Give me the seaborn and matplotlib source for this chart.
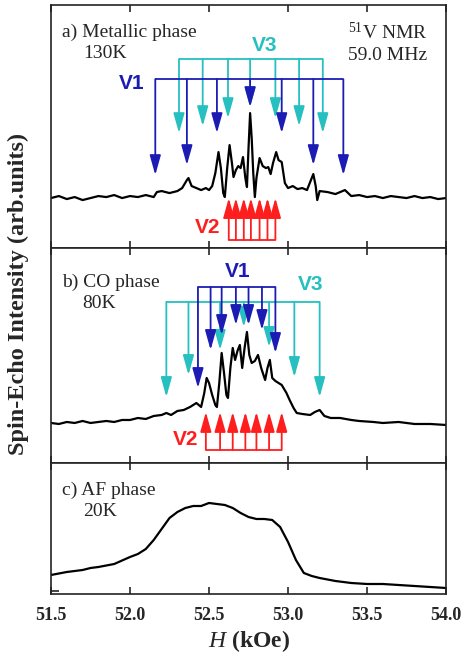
import pandas as pd
import matplotlib
matplotlib.use("Agg")
import matplotlib.pyplot as plt
import seaborn as sns

# spectra: field (kOe) and echo intensity (arb. units)

field_a = [51.50, 51.55, 51.60, 51.65, 51.70, 51.75, 51.80, 51.85, 51.90, 51.95,
           52.00, 52.05, 52.10, 52.15, 52.17, 52.20, 52.25, 52.30, 52.33, 52.36,
           52.37, 52.39, 52.42, 52.45, 52.48, 52.50, 52.52, 52.54, 52.56, 52.575,
           52.59, 52.60, 52.615, 52.63, 52.645, 52.655, 52.67, 52.685, 52.70, 52.715,
           52.73, 52.74, 52.75, 52.76, 52.77, 52.78, 52.79, 52.80, 52.82, 52.84,
           52.86, 52.875, 52.89, 52.905, 52.925, 52.94, 52.96, 52.98, 53.00, 53.03,
           53.06, 53.09, 53.12, 53.15, 53.16, 53.175, 53.185, 53.20, 53.25, 53.30,
           53.36, 53.40, 53.45, 53.50, 53.55, 53.60, 53.65, 53.70, 53.75, 53.80,
           53.85, 53.90, 53.95, 54.00]
echo_a = [50, 52, 49, 51, 48, 50, 52, 51, 53, 50,
          52, 51, 53, 51, 56, 57, 55, 57, 60, 68,
          70, 62, 60, 58, 60, 58, 62, 75, 96, 80,
          55, 51, 80, 103, 85, 71, 78, 82, 80, 91,
          70, 61, 100, 135, 110, 75, 51, 70, 90, 82,
          80, 81, 74, 85, 96, 88, 86, 65, 60, 62,
          59, 60, 58, 70, 74, 62, 48, 57, 56, 54,
          58, 52, 53, 51, 52, 50, 52, 51, 50, 52,
          50, 51, 49, 50]

field_b = [51.50, 51.55, 51.60, 51.65, 51.70, 51.75, 51.80, 51.85, 51.90, 51.95,
           52.00, 52.05, 52.10, 52.15, 52.20, 52.23, 52.26, 52.30, 52.34, 52.38,
           52.42, 52.45, 52.47, 52.485, 52.50, 52.52, 52.54, 52.55, 52.565, 52.58,
           52.595, 52.61, 52.62, 52.635, 52.65, 52.665, 52.68, 52.695, 52.71, 52.725,
           52.74, 52.755, 52.77, 52.79, 52.81, 52.83, 52.855, 52.87, 52.885, 52.90,
           52.92, 52.96, 52.99, 53.01, 53.035, 53.055, 53.09, 53.14, 53.17, 53.20,
           53.23, 53.27, 53.33, 53.40, 53.45, 53.54, 53.60, 53.70, 53.80, 53.90,
           54.00]
echo_b = [40, 39, 41, 40, 42, 40, 41, 42, 41, 43,
          43, 45, 44, 47, 48, 50, 48, 52, 53, 56,
          60, 56, 70, 85, 80, 68, 58, 56, 80, 110,
          90, 68, 65, 95, 115, 103, 112, 118, 95, 115,
          131, 108, 100, 102, 108, 95, 83, 95, 103, 85,
          82, 78, 70, 63, 55, 50, 49, 48, 51, 53,
          47, 45, 45, 43, 42, 41, 40, 41, 39, 39,
          38]

field_c = [51.50, 51.60, 51.70, 51.75, 51.80, 51.90, 52.00, 52.05, 52.10, 52.15,
           52.20, 52.25, 52.30, 52.35, 52.40, 52.45, 52.50, 52.55, 52.60, 52.65,
           52.70, 52.75, 52.80, 52.85, 52.90, 52.95, 53.00, 53.05, 53.10, 53.15,
           53.20, 53.30, 53.40, 53.50, 53.60, 53.70, 53.80, 53.90, 54.00]
echo_c = [19, 22, 24, 26, 27, 30, 37, 40, 45, 54,
          65, 76, 82, 86, 88, 88, 91, 90, 89, 86,
          81, 77, 75, 75, 74, 67, 52, 34, 21, 18,
          16, 13, 11, 10, 10, 9, 8, 7, 6]

# resonance line positions (kOe)

v1_a = [52.16, 52.36, 52.55, 52.76, 52.96, 53.16, 53.35]
v3_a = [52.31, 52.46, 52.62, 52.76, 52.92, 53.07, 53.22]
v2_a = [52.625, 52.67, 52.72, 52.765, 52.82, 52.87, 52.92]
v1_b = [52.43, 52.51, 52.58, 52.67, 52.75, 52.835, 52.92]
v3_b = [52.23, 52.37, 52.57, 52.72, 52.88, 53.04, 53.20]
v2_b = [52.48, 52.57, 52.65, 52.73, 52.80, 52.88, 52.96]

xticks = [51.5, 52.0, 52.5, 53.0, 53.5, 54.0]

BLUE = "#1c1cb4"
CYAN = "#26c0c0"
RED = "#ff1e1e"

sns.set_theme(style="ticks")
plt.rcParams['font.family'] = ['Liberation Serif', 'DejaVu Serif']
plt.rcParams['mathtext.fontset'] = 'custom'
plt.rcParams['mathtext.rm'] = 'Liberation Serif'
plt.rcParams['mathtext.it'] = 'Liberation Serif:italic'
plt.rcParams['mathtext.bf'] = 'Liberation Serif:bold'

fig = plt.figure(figsize=(4.61, 6.60), dpi=100)
ax_a = fig.add_axes([0.1106, 0.6242, 0.857, 0.368])
ax_b = fig.add_axes([0.1106, 0.2985, 0.857, 0.3258])
ax_c = fig.add_axes([0.1106, 0.1000, 0.857, 0.1985])


def comb(ax, xs, bar, tips, color):
    # horizontal bar with one arrow per line
    ax.hlines(bar, min(xs), max(xs), color=color, lw=1.3, zorder=3)
    for x, tip in zip(xs, tips):
        ax.annotate("", xy=(x, tip), xytext=(x, bar),
                    arrowprops=dict(arrowstyle="-|>,head_length=1.0,head_width=0.28",
                                    color=color, lw=1.3, shrinkA=0, shrinkB=0),
                    zorder=3)


def vlabel(ax, x, y, s, color):
    ax.text(x, y, s, color=color, fontsize=15, fontweight="bold",
            family="Liberation Sans", ha="center", va="center")


spectra = [(ax_a, field_a, echo_a, 243), (ax_b, field_b, echo_b, 215), (ax_c, field_c, echo_c, 131)]
for ax, fx, fy, top in spectra:
    df = pd.DataFrame({"H": fx, "I": fy})
    sns.lineplot(data=df, x="H", y="I", ax=ax, color="black", lw=1.6, estimator=None)
    ax.set_xlim(51.5, 54.0)
    ax.set_ylim(0, top)
    ax.set_xticks(xticks)
    ax.set_yticks([])
    ax.set_ylabel("")
    ax.set_xlabel("")
    ax.tick_params(axis='x', direction='in', top=True, bottom=True, length=5, width=1.2, pad=9)
    for s in ax.spines.values():
        s.set_linewidth(1.2)
        s.set_color("#222222")

for ax in (ax_a, ax_b):
    ax.tick_params(axis='x', labelbottom=False)

# small zero mark at the lower left of panel c
ax_c.set_yticks([3])
ax_c.tick_params(axis='y', direction='in', length=6, width=1.2, labelleft=False)

ax_c.set_xticklabels(["%.1f" % t for t in xticks], fontsize=13, fontweight="bold")
ax_c.set_xlabel(r"$\mathit{H}$ (kOe)", fontsize=17, fontweight="bold", labelpad=3)

# panel a
comb(ax_a, v3_a, 189, [115, 122, 130, 141, 130, 122, 115], CYAN)
comb(ax_a, v1_a, 169, [73, 83, 115, 141, 115, 83, 73], BLUE)
comb(ax_a, v2_a, 8, [50] * 7, RED)
vlabel(ax_a, 52.85, 203, "V3", CYAN)
vlabel(ax_a, 52.01, 165, "V1", BLUE)
vlabel(ax_a, 52.49, 21, "V2", RED)
ax_a.text(0.028, 0.889, "a) Metallic phase", transform=ax_a.transAxes, fontsize=14, va="center")
ax_a.text(0.081, 0.802, "130K", transform=ax_a.transAxes, fontsize=14, va="center")
ax_a.text(0.853, 0.889, r"$^{51}$V NMR", transform=ax_a.transAxes, fontsize=14, va="center", ha="center")
ax_a.text(0.853, 0.794, "59.0 MHz", transform=ax_a.transAxes, fontsize=14, va="center", ha="center")

# panel b
comb(ax_b, v3_b, 161, [66, 88, 113, 136, 116, 86, 66], CYAN)
comb(ax_b, v1_b, 176, [75, 113, 128, 138, 138, 133, 110], BLUE)
comb(ax_b, v2_b, 13, [51] * 7, RED)
vlabel(ax_b, 52.68, 191, "V1", BLUE)
vlabel(ax_b, 53.14, 178, "V3", CYAN)
vlabel(ax_b, 52.35, 23, "V2", RED)
ax_b.text(0.028, 0.842, "b) CO phase", transform=ax_b.transAxes, fontsize=14, va="center")
ax_b.text(0.078, 0.740, "80K", transform=ax_b.transAxes, fontsize=14, va="center")

# panel c
ax_c.text(0.028, 0.794, "c) AF phase", transform=ax_c.transAxes, fontsize=14, va="center")
ax_c.text(0.081, 0.626, "20K", transform=ax_c.transAxes, fontsize=14, va="center")

fig.text(0.039, 0.555, "Spin-Echo Intensity (arb.units)", rotation=90, fontsize=17.5,
         fontweight="bold", ha="center", va="center")

fig.savefig("out.png", dpi=100)
